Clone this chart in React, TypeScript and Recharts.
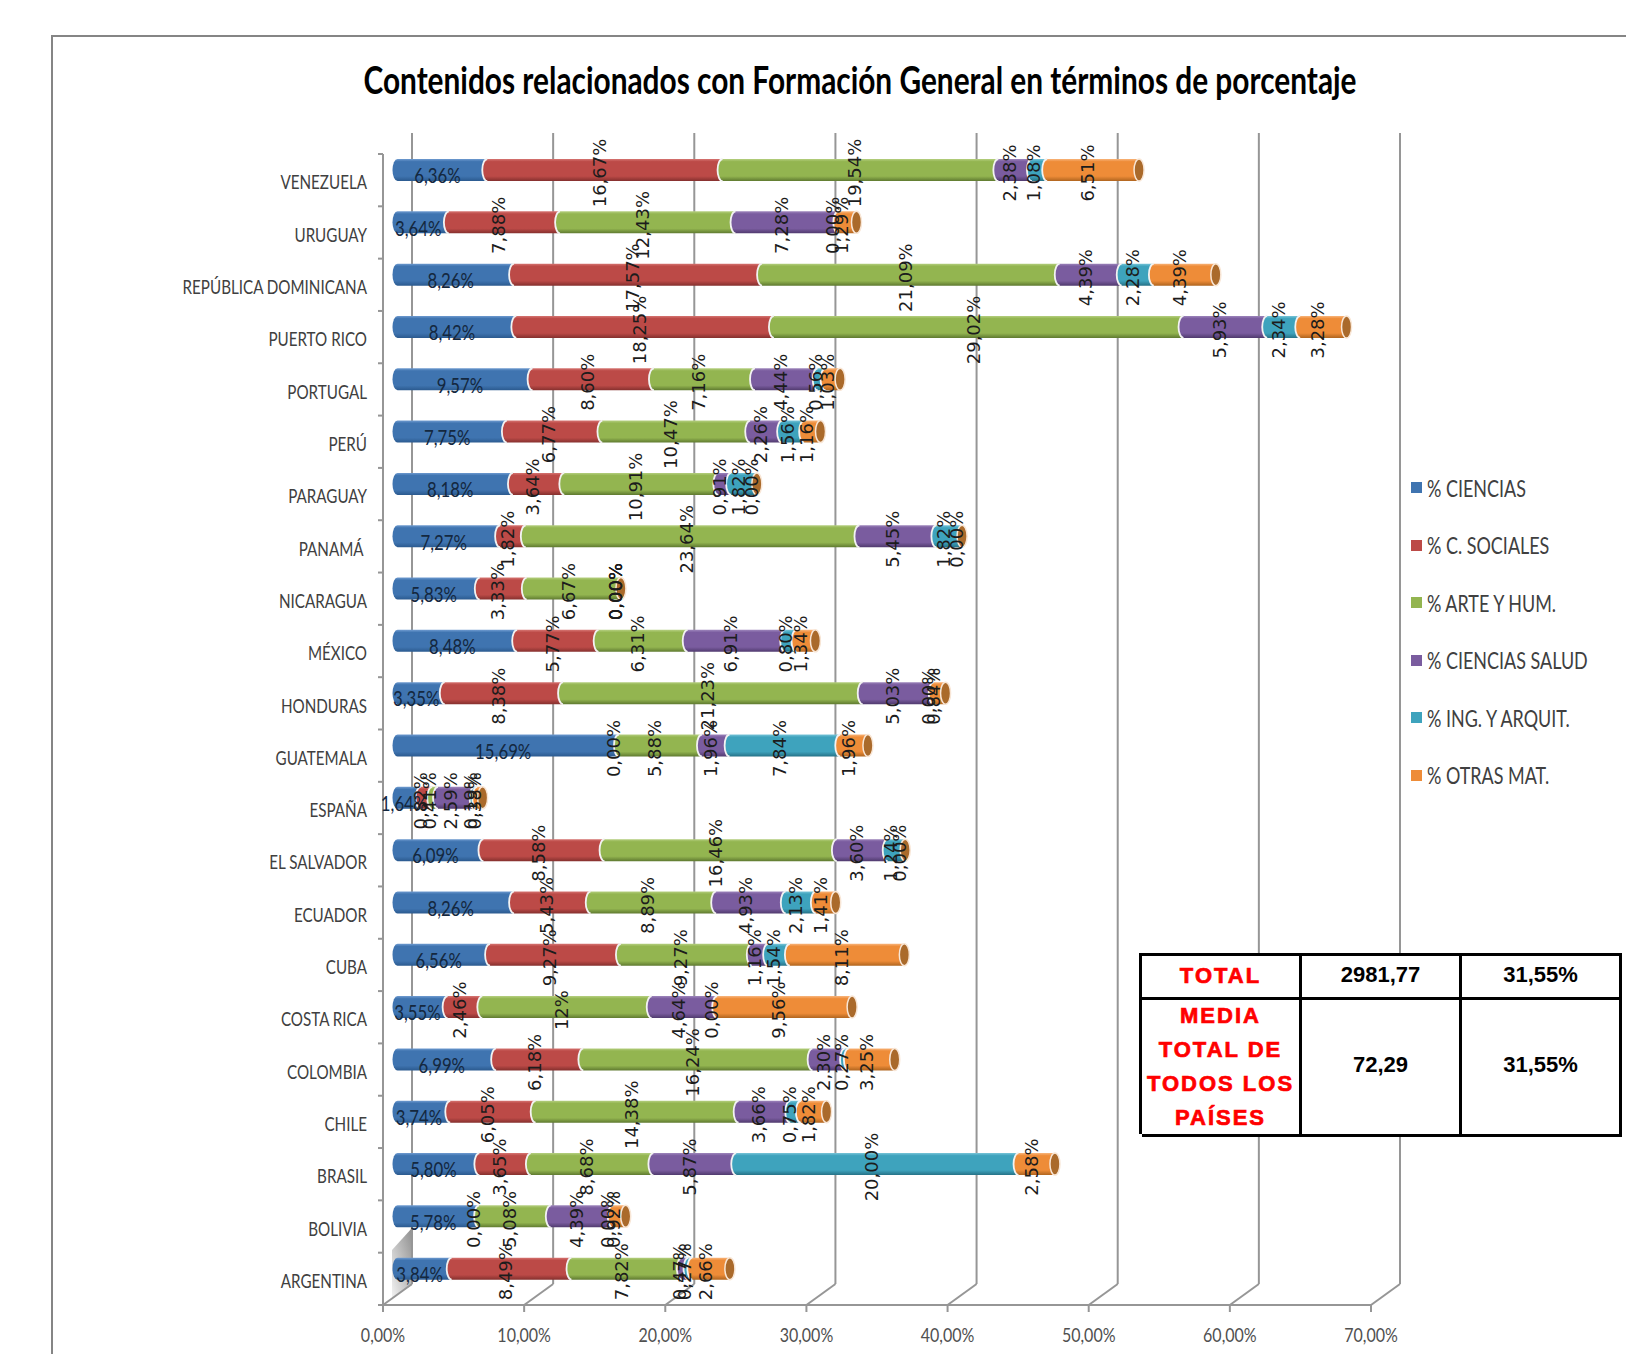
import React from 'react';
import { BarChart, Bar, XAxis, YAxis, CartesianGrid, Legend } from 'recharts';

const countries = [
    'VENEZUELA', 'URUGUAY', 'REPÚBLICA DOMINICANA', 'PUERTO RICO', 'PORTUGAL', 'PERÚ', 'PARAGUAY',
    'PANAMÁ\u00a0', 'NICARAGUA', 'MÉXICO', 'HONDURAS', 'GUATEMALA', 'ESPAÑA', 'EL SALVADOR', 'ECUADOR',
    'CUBA', 'COSTA RICA', 'COLOMBIA', 'CHILE', 'BRASIL', 'BOLIVIA', 'ARGENTINA',
];

const ciencias = [6.36, 3.64, 8.26, 8.42, 9.57, 7.75, 8.18, 7.27, 5.83, 8.48, 3.35, 15.69, 1.64, 6.09, 8.26, 6.56, 3.55, 6.99, 3.74, 5.8, 5.78, 3.84];
const sociales = [16.67, 7.88, 17.57, 18.25, 8.6, 6.77, 3.64, 1.82, 3.33, 5.77, 8.38, 0, 0.82, 8.58, 5.43, 9.27, 2.46, 6.18, 6.05, 3.65, 0, 8.49];
const arte = [19.54, 12.43, 21.09, 29.02, 7.16, 10.47, 10.91, 23.64, 6.67, 6.31, 21.23, 5.88, 0.41, 16.46, 8.89, 9.27, 12, 16.24, 14.38, 8.68, 5.08, 7.82];
const salud = [2.38, 7.28, 4.39, 5.93, 4.44, 2.26, 0.91, 5.45, 0, 6.91, 5.03, 1.96, 2.59, 3.6, 4.93, 1.16, 4.64, 2.3, 3.66, 5.87, 4.39, 0.47];
const ingenieria = [1.08, 0, 2.28, 2.34, 0.56, 1.56, 1.82, 1.82, 0, 0.8, 0, 7.84, 0.19, 1.24, 2.13, 1.54, 0, 0.27, 0.75, 20, 0, 0.27];
const otras = [6.51, 1.29, 4.39, 3.28, 1.03, 1.16, 0, 0, 0, 1.34, 0.84, 1.96, 0.38, 0, 1.41, 8.11, 9.56, 3.25, 1.82, 2.58, 0.92, 2.66];

const xTicks = [0, 10, 20, 30, 40, 50, 60, 70];

const series = [
    { key: 'ciencias', name: '% CIENCIAS', color: '#3f74b0', top: '#6f9bd0', low: '#2b5a8f' },
    { key: 'sociales', name: '% C. SOCIALES', color: '#bc4a47', top: '#d67572', low: '#85302e' },
    { key: 'arte', name: '% ARTE Y HUM.', color: '#93b550', top: '#b5cf80', low: '#5f7a30' },
    { key: 'salud', name: '% CIENCIAS SALUD', color: '#7a5c9f', top: '#9d85bb', low: '#503a6e' },
    { key: 'ingenieria', name: '% ING. Y ARQUIT.', color: '#3ea3bd', top: '#78c4d8', low: '#267287' },
    { key: 'otras', name: '% OTRAS MAT.', color: '#ee8c38', top: '#f8b57c', low: '#b0651f' },
];

const data = countries.map((name, i) => ({
    name,
    ciencias: ciencias[i],
    sociales: sociales[i],
    arte: arte[i],
    salud: salud[i],
    ingenieria: ingenieria[i],
    otras: otras[i],
}));

const tableRows = [
    { label: ['TOTAL'], amount: '2981,77', share: '31,55%' },
    { label: ['MEDIA', 'TOTAL DE', 'TODOS LOS', 'PAÍSES'], amount: '72,29', share: '31,55%' },
];

const WIDTH = 1626;
const HEIGHT = 1354;
const PLOT = { left: 383, right: 1371, top: 154, bottom: 1305 };
const BAND = (PLOT.bottom - PLOT.top) / countries.length;
// the 3D look: back wall is shifted from the front axes, bars sit half way in
const WALL_DX = 29;
const WALL_TOP = 133;
const WALL_BOTTOM = 1284;
const BAR_DX = 9.5;
const BAR_DY = -10;
const CAP_RX = 5;

const AXIS_COLOR = '#969696';
// Calibri is not installed: Lato squeezed horizontally comes closest
const NARROW = 'Lato, sans-serif';
const SQUEEZE = 0.8;

const formatPct = (v: number) => `${v.toFixed(2).replace('.', ',')}%`;

const Cylinder = (props: any) => {
    const { x, y, width, height, seriesKey } = props;
    const left = x + BAR_DX + CAP_RX;
    const right = left + width;
    const top = y + BAR_DY;
    const bottom = top + height;
    const ry = height / 2;
    return (
        <g>
            {width > 0 && (
                <path
                    d={`M${left},${top} A${CAP_RX},${ry} 0 0 0 ${left},${bottom} L${right},${bottom} L${right},${top} Z`}
                    fill={`url(#grad-${seriesKey})`}
                />
            )}
            {width > 0 && x > PLOT.left && (
                <path
                    d={`M${left},${top} A${CAP_RX},${ry} 0 0 0 ${left},${bottom}`}
                    fill="none"
                    stroke="#f2f2f2"
                    strokeWidth={1.8}
                />
            )}
            {seriesKey === 'otras' && (
                <ellipse cx={right} cy={top + ry} rx={CAP_RX} ry={ry} fill="#aa6a2b" stroke="#f8e6d6" strokeWidth={1.5} />
            )}
        </g>
    );
};

const SegmentLabel = (props: any) => {
    const { x, y, width, height, payload, seriesKey, index } = props;
    const value = payload[seriesKey];
    const cx = x + BAR_DX + width / 2;
    const cy = y + BAR_DY + height / 2;
    if (seriesKey === 'ciencias') {
        return (
            <text
                transform={`translate(${cx},${cy + 5}) scale(${SQUEEZE},1)`}
                textAnchor="middle"
                dominantBaseline="central"
                fontFamily={NARROW}
                fontSize={21}
                fill="#14283f"
            >
                {formatPct(value)}
            </text>
        );
    }
    // Costa Rica's arts share is written without decimals in the source chart
    const text = seriesKey === 'arte' && countries[index] === 'COSTA RICA' ? '12%' : formatPct(value);
    return (
        <text
            transform={`translate(${cx},${cy + 3}) rotate(-90) scale(1.06,1)`}
            textAnchor="middle"
            dominantBaseline="central"
            fontFamily="'DejaVu Sans', sans-serif"
            fontSize={17}
            fill="#1c1c1c"
        >
            {text}
        </text>
    );
};

const CountryTick = (props: any) => {
    const { y, payload, index } = props;
    return (
        <g>
            <line x1={PLOT.left - 5} x2={PLOT.left} y1={y - BAND / 2} y2={y - BAND / 2} stroke={AXIS_COLOR} strokeWidth={2} />
            {index === countries.length - 1 && (
                <line x1={PLOT.left - 5} x2={PLOT.left} y1={y + BAND / 2} y2={y + BAND / 2} stroke={AXIS_COLOR} strokeWidth={2} />
            )}
            <text
                transform={`translate(367,${y + 2}) scale(${SQUEEZE},1)`}
                textAnchor="end"
                dominantBaseline="central"
                fontFamily={NARROW}
                fontSize={19}
                fill="#404040"
            >
                {payload.value}
            </text>
        </g>
    );
};

const PercentTick = (props: any) => {
    const { x, y, payload } = props;
    return (
        <text
            transform={`translate(${x},${y}) scale(${SQUEEZE},1)`}
            textAnchor="middle"
            dominantBaseline="central"
            fontFamily={NARROW}
            fontSize={20}
            fill="#505050"
        >
            {formatPct(payload.value)}
        </text>
    );
};

const wallLine = (props: any) => {
    const { x1, key } = props;
    return (
        <g key={key}>
            <line x1={x1 + WALL_DX} x2={x1 + WALL_DX} y1={WALL_TOP} y2={WALL_BOTTOM} stroke={AXIS_COLOR} strokeWidth={2} />
            <line x1={x1} x2={x1 + WALL_DX} y1={PLOT.bottom} y2={WALL_BOTTOM} stroke={AXIS_COLOR} strokeWidth={2} />
        </g>
    );
};

const LegendList = ({ payload }: any) => (
    <div>
        {(payload || []).map((entry: any) => (
            <div key={entry.value} style={{ height: 57.5, display: 'flex', alignItems: 'center' }}>
                <span style={{ width: 11, height: 11, background: entry.color, marginRight: 5, flex: 'none' }} />
                <span
                    style={{
                        fontFamily: NARROW,
                        fontSize: 23,
                        color: '#404040',
                        whiteSpace: 'nowrap',
                        transform: 'scaleX(0.78)',
                        transformOrigin: 'left center',
                    }}
                >
                    {entry.value}
                </span>
            </div>
        ))}
    </div>
);

const cellBorder = '3px solid #000';
const numberCell: React.CSSProperties = {
    borderRight: cellBorder,
    borderBottom: cellBorder,
    paddingBottom: 4,
    display: 'flex',
    alignItems: 'center',
    justifyContent: 'center',
};

const TotalsTable = () => (
    <div
        style={{
            position: 'absolute',
            left: 1139,
            top: 953,
            width: 483,
            height: 181,
            display: 'grid',
            gridTemplateColumns: '160px 160px 160px',
            gridTemplateRows: '44px 137px',
            boxSizing: 'border-box',
            borderTop: cellBorder,
            borderLeft: cellBorder,
            background: '#fff',
            fontFamily: '"Liberation Sans", sans-serif',
            fontWeight: 'bold',
            fontSize: 22,
            textAlign: 'center',
        }}
    >
        {tableRows.map((row) => (
            <React.Fragment key={row.label[0]}>
                <div style={{ borderRight: cellBorder, borderBottom: cellBorder, color: '#f00', fontSize: 22, letterSpacing: 2, lineHeight: '34px', WebkitTextStroke: '0.7px #f00', display: 'flex', flexDirection: 'column', justifyContent: 'center', paddingBottom: row.label.length === 1 ? 2 : 0 }}>
                    {row.label.map((line) => <div key={line} style={{ whiteSpace: 'nowrap' }}>{line}</div>)}
                </div>
                <div style={numberCell}>{row.amount}</div>
                <div style={numberCell}>{row.share}</div>
            </React.Fragment>
        ))}
    </div>
);

export default function App() {
    return (
        <div style={{ position: 'absolute', left: 0, top: 0, width: WIDTH, height: HEIGHT, overflow: 'hidden', background: '#fff' }}>
            <div style={{ position: 'absolute', left: 51, top: 35, right: -10, bottom: -10, borderTop: '2px solid #858585', borderLeft: '2px solid #858585' }} />
            <div
                style={{
                    position: 'absolute',
                    left: 0,
                    width: 1720,
                    top: 57,
                    textAlign: 'center',
                    fontFamily: NARROW,
                    fontWeight: 'bold',
                    fontSize: 38,
                    lineHeight: '44px',
                    color: '#000',
                    whiteSpace: 'nowrap',
                    transform: 'scaleX(0.785)',
                }}
            >
                Contenidos relacionados con Formación General en términos de porcentaje
            </div>

            <svg width={WIDTH} height={HEIGHT} style={{ position: 'absolute', left: 0, top: 0 }}>
                <defs>
                    <linearGradient id="wallShade" x1="0" y1="1" x2="1" y2="0">
                        <stop offset="0" stopColor="#f2f2f2" />
                        <stop offset="1" stopColor="#8f8f8f" />
                    </linearGradient>
                </defs>
                <polygon points="392,1250 412,1228 412,1285 392,1298" fill="url(#wallShade)" />
            </svg>

            <div style={{ position: 'absolute', left: 0, top: 0 }}>
                <BarChart
                    width={WIDTH}
                    height={HEIGHT}
                    data={data}
                    layout="vertical"
                    barSize={22}
                    margin={{ left: 183, right: 40, top: PLOT.top, bottom: 9 }}
                >
                    <defs>
                        {series.map((s) => (
                            <linearGradient key={s.key} id={`grad-${s.key}`} x1="0" y1="0" x2="0" y2="1">
                                <stop offset="0" stopColor={s.top} />
                                <stop offset="0.12" stopColor={s.color} />
                                <stop offset="0.78" stopColor={s.color} />
                                <stop offset="1" stopColor={s.low} />
                            </linearGradient>
                        ))}
                    </defs>
                    <CartesianGrid horizontal={false} vertical={wallLine} />
                    <XAxis
                        type="number"
                        domain={[0, 70]}
                        ticks={xTicks}
                        height={40}
                        tickSize={7}
                        tickMargin={22}
                        axisLine={{ stroke: AXIS_COLOR, strokeWidth: 2 }}
                        tickLine={{ stroke: AXIS_COLOR, strokeWidth: 2 }}
                        tick={PercentTick}
                    />
                    <YAxis
                        type="category"
                        dataKey="name"
                        width={200}
                        interval={0}
                        tickLine={false}
                        axisLine={{ stroke: AXIS_COLOR, strokeWidth: 2 }}
                        tick={CountryTick}
                    />
                    <Legend
                        layout="vertical"
                        align="right"
                        verticalAlign="top"
                        width={215}
                        itemSorter={null}
                        wrapperStyle={{ left: 1411, top: 459, right: 'auto' }}
                        content={LegendList}
                    />
                    {series.map((s) => (
                        <Bar
                            key={s.key}
                            dataKey={s.key}
                            name={s.name}
                            stackId="total"
                            fill={s.color}
                            isAnimationActive={false}
                            legendType="square"
                            shape={(props: any) => <Cylinder {...props} seriesKey={s.key} />}
                        />
                    ))}
                </BarChart>
            </div>

            {/* labels go in a second chart on top so no bar can cover them */}
            <div style={{ position: 'absolute', left: 0, top: 0, pointerEvents: 'none' }}>
                <BarChart
                    width={WIDTH}
                    height={HEIGHT}
                    data={data}
                    layout="vertical"
                    barSize={22}
                    margin={{ left: PLOT.left, right: WIDTH - PLOT.right, top: PLOT.top, bottom: HEIGHT - PLOT.bottom }}
                >
                    <XAxis type="number" domain={[0, 70]} hide />
                    <YAxis type="category" dataKey="name" hide />
                    {series.map((s) => (
                        <Bar
                            key={s.key}
                            dataKey={s.key}
                            stackId="total"
                            isAnimationActive={false}
                            shape={(props: any) => <SegmentLabel {...props} seriesKey={s.key} />}
                        />
                    ))}
                </BarChart>
            </div>

            <TotalsTable />
        </div>
    );
}
